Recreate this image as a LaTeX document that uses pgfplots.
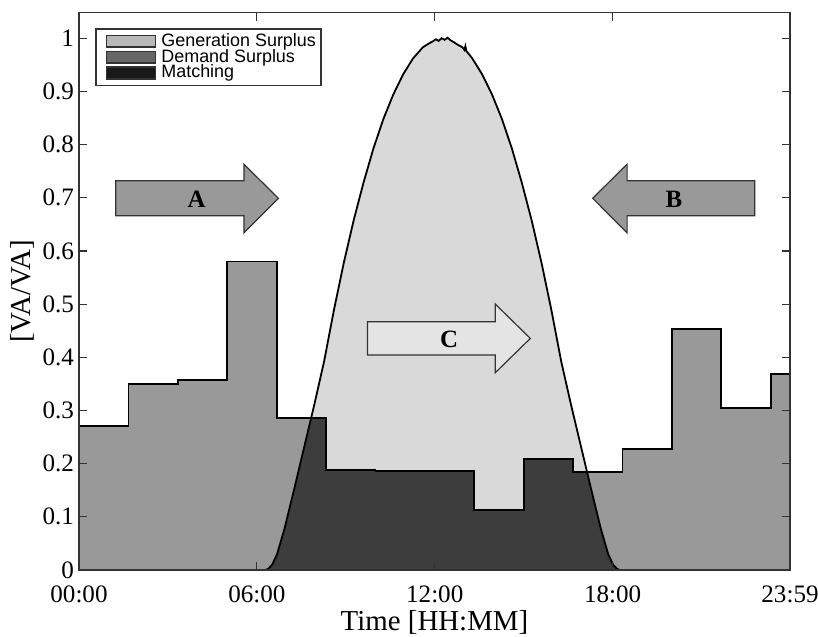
\documentclass[border=0pt]{standalone}
\usepackage{pgfplots}
\pgfplotsset{compat=1.18}
\usepackage{fontspec}
\setmainfont{Liberation Serif}
\newfontfamily\legendfont{Liberation Sans}

\definecolor{gensur}{HTML}{D9D9D9}
\definecolor{demsur}{HTML}{999999}
\definecolor{matchc}{HTML}{3D3D3D}
\definecolor{axisgray}{HTML}{333333}

\pgfplotsset{
  patchlegend/.style={
    legend image code/.code={
      \path (0bp,0bp) (29.5bp,0bp);
      \draw[##1] (2.5bp,-2.9bp) rectangle (27bp,2.9bp);
    }
  }
}

\begin{document}
\begin{tikzpicture}
\begin{axis}[
  name=ax,
  scale only axis,
  width=355.5bp, height=278.65bp,
  xmin=0, xmax=1439, ymin=0, ymax=1.048,
  xtick={0,360,720,1080,1439},
  xticklabels={00:00,06:00,12:00,18:00,23:59},
  ytick={0,0.1,0.2,0.3,0.4,0.5,0.6,0.7,0.8,0.9,1},
  tick align=inside,
  major tick length=4bp,
  tick style={axisgray, line width=0.6bp},
  axis line style={axisgray, line width=0.8bp},
  axis on top,
  ticklabel style={font=\fontsize{12.6}{14}\selectfont},
  xticklabel style={yshift=-4.5bp},
  yticklabel style={xshift=1bp},
  /pgf/number format/assume math mode=true,
  xlabel={Time [HH:MM]},
  ylabel={[VA/VA]},
  label style={font=\fontsize{14.5}{16}\selectfont},
  xlabel style={at={(axis description cs:0.5,-0.094)}, anchor=center},
  ylabel style={at={(axis description cs:-0.08,0.5)}, anchor=center},
  legend cell align=left,
  legend style={
    at={(axis description cs:0.0225,0.9725)}, anchor=north west,
    draw=axisgray, line width=0.8bp, fill=white,
    font=\legendfont\fontsize{9}{9}\selectfont,
    inner xsep=2.5bp, inner ysep=2.3bp,
    row sep=0pt,
    nodes={inner sep=0pt, text height=6.4bp, text depth=1.5bp},
  },
]

% PV generation profile (normalised)
\addplot[fill=gensur, draw=none, forget plot] coordinates {
(378,0) (384,0.003) (391,0.010) (401,0.030) (416,0.078) (436,0.154)
(456,0.232) (476,0.310) (496,0.392) (516,0.489) (536,0.578) (556,0.658)
(576,0.729) (596,0.793) (616,0.848) (636,0.894) (656,0.932) (676,0.962)
(696,0.983) (708,0.990) (716,0.994) (722,0.998) (728,0.995) (734,1.000)
(740,0.997) (746,1.001) (752,0.996) (758,0.993) (766,0.988) (776,0.983)
(780,0.978) (782,0.985) (784,0.976) (796,0.962) (816,0.932) (836,0.894)
(856,0.848) (876,0.793) (896,0.729) (916,0.658) (936,0.578) (956,0.489)
(976,0.392) (996,0.310) (1016,0.232) (1036,0.154) (1056,0.078)
(1071,0.030) (1081,0.010) (1088,0.003) (1094,0)
} \closedcycle;

% load profile, 100-minute steps
\addplot[const plot, fill=demsur, draw=none, forget plot] coordinates {
(0,0.271) (100,0.350) (200,0.357) (300,0.580) (400,0.286) (500,0.188)
(600,0.186) (700,0.186) (800,0.113) (900,0.209) (1000,0.184)
(1100,0.227) (1200,0.453) (1300,0.305) (1400,0.368) (1439,0.368)
} \closedcycle;

% self-consumed part: min(generation, load)
\addplot[fill=matchc, draw=none, forget plot] coordinates {
(378,0) (384,0.003) (391,0.010) (401,0.030) (416,0.078) (436,0.154)
(456,0.232) (470,0.286) (500,0.286) (500,0.188) (600,0.188) (600,0.186)
(800,0.186) (800,0.113) (900,0.113) (900,0.209) (1000,0.209)
(1000,0.184) (1028,0.184) (1036,0.154) (1056,0.078) (1071,0.030)
(1081,0.010) (1088,0.003) (1094,0)
} \closedcycle;

% outlines
\addplot[const plot, black, line width=0.9bp, forget plot] coordinates {
(0,0.271) (100,0.350) (200,0.357) (300,0.580) (400,0.286) (500,0.188)
(600,0.186) (700,0.186) (800,0.113) (900,0.209) (1000,0.184)
(1100,0.227) (1200,0.453) (1300,0.305) (1400,0.368) (1439,0.368)
};
\addplot[black, line width=0.9bp, forget plot] coordinates {
(378,0) (384,0.003) (391,0.010) (401,0.030) (416,0.078) (436,0.154)
(456,0.232) (476,0.310) (496,0.392) (516,0.489) (536,0.578) (556,0.658)
(576,0.729) (596,0.793) (616,0.848) (636,0.894) (656,0.932) (676,0.962)
(696,0.983) (708,0.990) (716,0.994) (722,0.998) (728,0.995) (734,1.000)
(740,0.997) (746,1.001) (752,0.996) (758,0.993) (766,0.988) (776,0.983)
(780,0.978) (782,0.985) (784,0.976) (796,0.962) (816,0.932) (836,0.894)
(856,0.848) (876,0.793) (896,0.729) (916,0.658) (936,0.578) (956,0.489)
(976,0.392) (996,0.310) (1016,0.232) (1036,0.154) (1056,0.078)
(1071,0.030) (1081,0.010) (1088,0.003) (1094,0)
};

% block arrows
\draw[fill=demsur, draw=axisgray, line width=0.6bp]
  (74.3,0.666) -- (333.8,0.666) -- (333.8,0.634) -- (403.6,0.699)
  -- (333.8,0.763) -- (333.8,0.732) -- (74.3,0.732) -- cycle;
\draw[fill=demsur, draw=axisgray, line width=0.6bp]
  (1367.7,0.666) -- (1109.3,0.666) -- (1109.3,0.634) -- (1039.6,0.699)
  -- (1109.3,0.763) -- (1109.3,0.732) -- (1367.7,0.732) -- cycle;
\draw[fill=gensur!70!white, draw=axisgray, line width=0.6bp]
  (583.9,0.4042) -- (842.5,0.4042) -- (842.5,0.3709) -- (913.4,0.4355)
  -- (842.5,0.5001) -- (842.5,0.4668) -- (583.9,0.4668) -- cycle;
\node[font=\bfseries\fontsize{12.5}{14}\selectfont] at (238,0.697) {A};
\node[font=\bfseries\fontsize{12.5}{14}\selectfont] at (1204,0.697) {B};
\node[font=\bfseries\fontsize{12.5}{14}\selectfont] at (749,0.433) {C};

\addlegendimage{patchlegend, fill=gensur!85!black, draw=black!80, line width=0.8bp}
\addlegendentry{Generation Surplus}
\addlegendimage{patchlegend, fill=black!60, draw=black!80, line width=0.8bp}
\addlegendentry{Demand Surplus}
\addlegendimage{patchlegend, fill=black!90, draw=black!80, line width=0.8bp}
\addlegendentry{Matching}
\end{axis}
\pgfresetboundingbox
\path ([shift={(-39.5bp,-33.5bp)}]ax.south west) rectangle ([shift={(14bp,6.35bp)}]ax.north east);
\end{tikzpicture}
\end{document}
